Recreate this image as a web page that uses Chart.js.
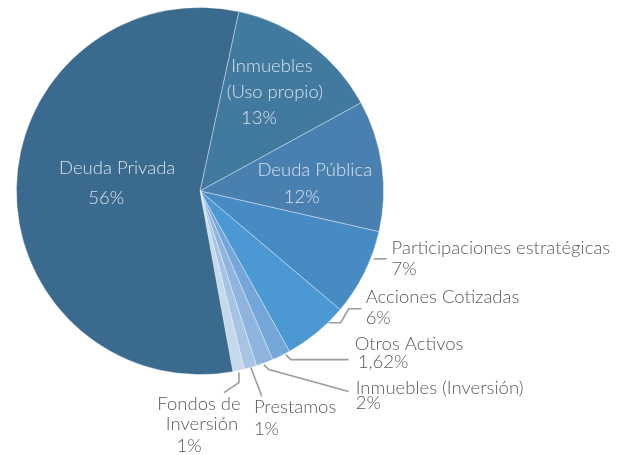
<!DOCTYPE html>
<html>
<head>
<meta charset="utf-8">
<script src="https://cdn.jsdelivr.net/npm/chart.js@4"></script>
<style>
html,body{margin:0;padding:0;background:#fff;}
#wrap{width:627px;height:455px;position:relative;}
</style>
</head>
<body>
<div id="wrap"><canvas id="c" width="627" height="455"></canvas></div>
<script>
// ---- data ----
const categories = [
  "Inmuebles (Uso propio)",
  "Deuda Pública",
  "Participaciones estratégicas",
  "Acciones Cotizadas",
  "Otros Activos",
  "Inmuebles (Inversión)",
  "Prestamos",
  "Fondos de Inversión",
  "Deuda Privada"
];
const values = [13.6, 11.5, 7.6, 5.7, 1.62, 1.5, 1.1, 1.0, 56.1];
const pctLabels = ["13%", "12%", "7%", "6%", "1,62%", "2%", "1%", "1%", "56%"];
const labelLines = [
  ["Inmuebles", "(Uso propio)"],
  ["Deuda Pública"],
  ["Participaciones estratégicas"],
  ["Acciones Cotizadas"],
  ["Otros Activos"],
  ["Inmuebles (Inversión)"],
  ["Prestamos"],
  ["Fondos de", "Inversión"],
  ["Deuda Privada"]
];

// ---- styles / layout (offsets from pie centre, px at radius 184) ----
const colors = ["#41799f", "#4a80b0", "#468bc4", "#4b98d2", "#74a6d7", "#8fb4dd", "#a8c4e4", "#c5d8ec", "#3a6b8f"];
const layout = [
  {inside:true, align:"center", pts:[[72,-125],[75,-99],[59,-73]]},
  {inside:true, align:"center", pts:[[115,-21],[102,6]]},
  {inside:false, align:"left", pts:[[192,57],[192,78]], line:[[174,68],[187,68]]},
  {inside:false, align:"left", pts:[[166,106],[166,127]], line:[[129,132],[141,132],[149,118],[162,118]]},
  {inside:false, align:"left", pts:[[155,153],[158,171]], line:[[86,164],[91,169],[149,169]]},
  {inside:false, align:"left", pts:[[156,197],[156,212]], line:[[64,174],[69,179],[149,201]]},
  {inside:false, align:"left", pts:[[54,217],[54,239]], line:[[51,177],[62,206]]},
  {inside:false, align:"center", pts:[[-1,213],[2,234],[-11,256]], line:[[39,182],[39,192],[24,202]]},
  {inside:true, align:"center", pts:[[-83,-23],[-94,7]]}
];

const labelPlugin = {
  id: "pieLabels",
  afterDatasetsDraw(chart) {
    const ctx = chart.ctx;
    const meta = chart.getDatasetMeta(0);
    meta.data.forEach((arc, i) => {
      const cx = arc.x, cy = arc.y, k = arc.outerRadius / 184;
      const L = layout[i];
      const lines = labelLines[i].concat([pctLabels[i]]);
      ctx.save();
      if (L.line) {
        ctx.strokeStyle = "#9c9c9c";
        ctx.lineWidth = 1.6;
        ctx.beginPath();
        L.line.forEach((p, j) => {
          const x = cx + p[0] * k, y = cy + p[1] * k;
          if (j === 0) ctx.moveTo(x, y); else ctx.lineTo(x, y);
        });
        ctx.stroke();
      }
      ctx.font = "300 18.5px Lato, 'Open Sans', sans-serif";
      ctx.fillStyle = L.inside ? "#d6e2ee" : "#5a5a5a";
      ctx.textAlign = L.align;
      ctx.textBaseline = "middle";
      lines.forEach((t, j) => {
        const p = L.pts[j];
        ctx.fillText(t, cx + p[0] * k, cy + p[1] * k);
      });
      ctx.restore();
    });
  }
};

new Chart(document.getElementById("c"), {
  type: "pie",
  data: {
    labels: categories,
    datasets: [{
      data: values,
      backgroundColor: colors,
      borderColor: "rgba(255,255,255,0.45)",
      borderWidth: 0.8
    }]
  },
  options: {
    responsive: false,
    animation: false,
    rotation: 12.2,
    layout: {padding: {left: 16, top: 7, right: 243, bottom: 80}},
    plugins: {legend: {display: false}, tooltip: {enabled: false}}
  },
  plugins: [labelPlugin]
});
</script>
</body>
</html>
